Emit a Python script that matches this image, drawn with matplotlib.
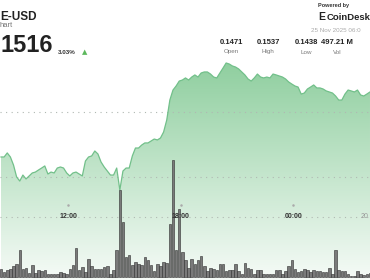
"""CoinDesk-style intraday price chart with volume bars."""

import matplotlib
matplotlib.use("Agg")
import matplotlib.pyplot as plt
import numpy as np
from matplotlib.colors import to_rgb

plt.rcParams["font.family"] = ["Liberation Sans", "DejaVu Sans"]

W, H = 370, 280

# 10-minute bars, first bar centred at 08:25
start_hour = 8 + 25 / 60
price = [
    0.14654, 0.14654, 0.14685, 0.14654, 0.14592, 0.14500, 0.14469, 0.14515, 0.14485, 0.14508,
    0.14531, 0.14538, 0.14554, 0.14569, 0.14585, 0.14523, 0.14538, 0.14531, 0.14569, 0.14577,
    0.14569, 0.14531, 0.14508, 0.14531, 0.14538, 0.14523, 0.14508, 0.14623, 0.14654, 0.14662,
    0.14700, 0.14677, 0.14615, 0.14577, 0.14546, 0.14515, 0.14515, 0.14569, 0.14400, 0.14546,
    0.14569, 0.14569, 0.14662, 0.14723, 0.14723, 0.14746, 0.14762, 0.14762, 0.14777, 0.14792,
    0.14785, 0.14800, 0.14846, 0.14938, 0.15092, 0.15169, 0.15200, 0.15238, 0.15246, 0.15262,
    0.15246, 0.15269, 0.15285, 0.15269, 0.15300, 0.15308, 0.15308, 0.15292, 0.15269, 0.15262,
    0.15300, 0.15338, 0.15377, 0.15369, 0.15354, 0.15346, 0.15331, 0.15308, 0.15285, 0.15254,
    0.15238, 0.15262, 0.15292, 0.15269, 0.15262, 0.15269, 0.15262, 0.15292, 0.15285, 0.15277,
    0.15269, 0.15254, 0.15231, 0.15215, 0.15200, 0.15192, 0.15138, 0.15146, 0.15177, 0.15192,
    0.15208, 0.15185, 0.15185, 0.15177, 0.15162, 0.15154, 0.15146, 0.15123, 0.15092, 0.15092,
    0.15138, 0.15169, 0.15162, 0.15154, 0.15169, 0.15131, 0.15123, 0.15138, 0.15154,
]
volume_m = [
    3.3, 2.0, 2.7, 3.3, 4.3, 5.3, 10.7, 3.3, 3.7, 1.6,
    4.7, 1.6, 2.7, 2.4, 2.7, 1.1, 1.3, 1.1, 1.3, 1.9,
    1.6, 1.1, 3.3, 4.7, 11.7, 2.7, 4.0, 2.0, 7.3, 4.3,
    3.3, 3.3, 3.3, 4.0, 4.3, 1.3, 2.9, 10.7, 34.7, 22.0,
    8.0, 8.7, 4.7, 6.0, 5.3, 4.7, 8.0, 6.7, 4.7, 2.4,
    5.3, 4.3, 6.0, 5.6, 21.1, 46.7, 10.7, 27.3, 10.0, 6.7,
    3.7, 7.3, 5.3, 6.7, 8.3, 4.3, 2.4, 3.7, 3.2, 2.9,
    5.3, 5.1, 2.4, 2.7, 2.7, 5.1, 2.4, 1.3, 5.6, 3.7,
    3.3, 1.3, 2.7, 2.7, 1.1, 1.1, 1.1, 1.1, 2.7, 2.9,
    1.1, 2.4, 4.3, 6.7, 3.3, 2.0, 2.4, 3.3, 2.7, 2.0,
    2.7, 2.4, 2.4, 2.0, 2.0, 3.7, 1.3, 10.9, 2.7, 2.4,
    2.4, 1.3, 0.3, 0.3, 2.4, 1.1, 0.7, 1.3, 1.6,
]
tick_hours = [12, 18, 24]
tick_labels = ["12:00", "18:00", "00:00"]
grid_prices = [0.150, 0.145]
stat_values = ["0.1471", "0.1537", "0.1438", "497.21 M"]
stat_names = ["Open", "High", "Low", "Vol"]
stat_x = [231, 268, 306, 337]


def fig_xy(x, y):
    """Pixel position (from top-left) to figure fraction."""
    return x / W, 1 - y / H


hours = start_hour + np.arange(len(price)) / 6
step_px = 3.127
x_lo = start_hour - (1 / step_px) / 6
x_hi = start_hour + (369 / step_px) / 6
p_lo, p_hi = 0.150 - 168 / 13000, 0.150 + 112 / 13000

fig = plt.figure(figsize=(W / 100, H / 100), dpi=100)
fig.patch.set_facecolor("white")
ax = fig.add_axes([0, 0, 1, 1])
ax.set_xlim(x_lo, x_hi)
ax.set_ylim(p_lo, p_hi)
ax.axis("off")

# gradient fill below the price line (colour fixed by height)
top = np.array(to_rgb("#72c286"))
bottom = np.array(to_rgb("#f6fbf7"))
t = np.linspace(0, 1, 256)[:, None]
grad = (top * (1 - t) + bottom * t)[:, None, :]
poly = ax.fill_between(hours, price, p_lo, color="none", lw=0)
img = ax.imshow(grad, extent=[x_lo, x_hi, p_lo, p_hi], aspect="auto", origin="upper", zorder=1)
img.set_clip_path(poly.get_paths()[0], transform=ax.transData)
ax.plot(hours, price, color="#72c08a", lw=0.9, zorder=3)

for gp in grid_prices:
    ax.axhline(gp, color="#b0b8b2", lw=0.8, ls=(0, (1, 4)), zorder=2)
ax.plot([0, 1], [1 - 217 / H] * 2, transform=ax.transAxes, color="#b0b8b2", lw=0.8, ls=(0, (1, 4)), zorder=2)

# volume pane on the same time scale
axv = fig.add_axes([0, 0, 1, 1])
axv.set_xlim(x_lo, x_hi)
axv.set_ylim(-3 / 2.5, 277 / 2.5)
axv.axis("off")
axv.patch.set_alpha(0)
axv.bar(hours, volume_m, width=0.8 / 6, color="#7a7a7a", edgecolor="#2e2e2e", lw=0.4, zorder=4)

for th, lab in zip(tick_hours, tick_labels):
    axv.text(th, 1 - 217 / H, lab, transform=axv.get_xaxis_transform(), ha="center", va="center",
             fontsize=5, fontweight="bold", color="#333333", zorder=5)
    axv.plot(th, 1 - 205 / H, transform=axv.get_xaxis_transform(), marker="o", ms=0.8, color="#aaaaaa")
fig.text(*fig_xy(361, 217), "20", fontsize=5, color="#999999", ha="left", va="center")

# header
fig.text(*fig_xy(0, 16.5), "E-USD", fontsize=8.5, fontweight="bold", color="#222222", ha="left", va="center")
fig.text(*fig_xy(0, 25.5), "hart", fontsize=5.5, color="#777777", ha="left", va="center")
fig.text(*fig_xy(0, 45), "1516", fontsize=17, fontweight="bold", color="#222222", ha="left", va="center")
fig.text(*fig_xy(58, 52), "3.03%", fontsize=4.5, fontweight="bold", color="#333333", ha="left", va="center")
fig.text(*fig_xy(82, 52), "▲", fontsize=5, color="#5cb85c", ha="left", va="center", family="DejaVu Sans")

fig.text(*fig_xy(318, 5), "Powered by", fontsize=4, fontweight="bold", color="#333333", ha="left", va="center")
fig.text(*fig_xy(318, 17.5), "E", fontsize=7.5, fontweight="bold", color="#222222", ha="left", va="center")
fig.text(*fig_xy(327, 17.5), "CoinDesk", fontsize=6.8, fontweight="bold", color="#222222", ha="left", va="center")
fig.text(*fig_xy(311, 30), "25 Nov 2025 06:0", fontsize=4.5, color="#aaaaaa", ha="left", va="center")
for sx, val, name in zip(stat_x, stat_values, stat_names):
    fig.text(*fig_xy(sx, 42.5), val, fontsize=5.5, fontweight="bold", color="#222222", ha="center", va="center")
    fig.text(*fig_xy(sx, 52), name, fontsize=4.5, color="#777777", ha="center", va="center")

fig.savefig("out.png", dpi=100)
